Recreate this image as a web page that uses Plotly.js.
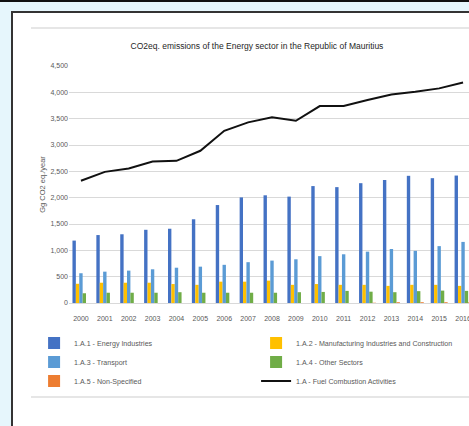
<!DOCTYPE html>
<html>
<head>
<meta charset="utf-8">
<script src="https://cdn.plot.ly/plotly-3.0.1.min.js"></script>
<style>
  html, body { margin: 0; padding: 0; width: 469px; height: 426px; overflow: hidden; background: #e6f6fc; position: relative; }
  #topbar { position: absolute; left: 0; top: 0; width: 469px; height: 2px; background: #111; }
  #box { position: absolute; left: 11px; top: 11px; width: 470px; height: 430px; background: #fff; border-left: 2px solid #333; border-top: 2px solid #333; }
  .hl { position: absolute; left: 31px; width: 440px; height: 2px; background: #e6e6e6; }
  #chart { position: absolute; left: 0; top: 0; width: 520px; height: 426px; }
</style>
</head>
<body>
<div id="topbar"></div>
<div id="box"></div>
<div class="hl" style="top:27px"></div>
<div class="hl" style="top:396px"></div>
<div id="chart"></div>
<script>
const years = ["2000","2001","2002","2003","2004","2005","2006","2007","2008","2009","2010","2011","2012","2013","2014","2015","2016"];
const energyIndustries = [1185, 1290, 1305, 1390, 1410, 1590, 1860, 2005, 2045, 2020, 2220, 2200, 2275, 2335, 2415, 2370, 2420];
const manufacturing = [365, 385, 385, 385, 360, 345, 405, 405, 425, 345, 360, 345, 345, 325, 345, 345, 325];
const transport = [565, 595, 615, 640, 670, 690, 725, 775, 805, 830, 890, 925, 975, 1025, 990, 1080, 1160];
const otherSectors = [185, 195, 195, 195, 205, 195, 195, 195, 195, 205, 210, 230, 215, 205, 225, 235, 230];
const nonSpecified = [0, 0, 0, 0, 0, 0, 0, 0, 0, 0, 0, 0, 5, 15, 15, 15, 15];
const fuelCombustion = [2320, 2490, 2555, 2685, 2700, 2890, 3270, 3430, 3525, 3460, 3740, 3740, 3855, 3960, 4010, 4075, 4185];

const FONT = "Liberation Sans Narrow, Liberation Sans, Arial, sans-serif";

const traces = [
  {type: "bar", name: "1.A.1 - Energy Industries", x: years, y: energyIndustries, marker: {color: "#4472C4"}},
  {type: "bar", name: "1.A.2 - Manufacturing Industries and Construction", x: years, y: manufacturing, marker: {color: "#FFC000"}},
  {type: "bar", name: "1.A.3 - Transport", x: years, y: transport, marker: {color: "#5B9BD5"}},
  {type: "bar", name: "1.A.4 - Other Sectors", x: years, y: otherSectors, marker: {color: "#70AD47"}},
  {type: "bar", name: "1.A.5 - Non-Specified", x: years, y: nonSpecified, marker: {color: "#ED7D31"}},
  {type: "scatter", mode: "lines", name: "1.A - Fuel Combustion Activities", x: years, y: fuelCombustion, line: {color: "#111", width: 2}}
];

const layout = {
  width: 520, height: 426,
  margin: {l: 69, r: 45, t: 66, b: 123},
  paper_bgcolor: "rgba(0,0,0,0)",
  plot_bgcolor: "rgba(0,0,0,0)",
  font: {family: FONT, color: "#595959", size: 7},
  title: {text: "CO2eq. emissions of the Energy sector in the Republic of Mauritius", font: {family: FONT, size: 8.5, color: "#262626"}, x: 257/520, xref: "container", xanchor: "center", y: 1 - 46/426, yref: "container", yanchor: "middle"},
  barmode: "group",
  bargap: 0.29,
  bargroupgap: 0,
  showlegend: true,
  legend: {orientation: "h", x: -0.086, xanchor: "left", y: -0.108, yanchor: "top", font: {family: FONT, size: 7.1, color: "#595959"}, entrywidth: 177, entrywidthmode: "pixels", traceorder: "normal", itemwidth: 30},
  xaxis: {type: "category", showgrid: false, showline: true, linecolor: "#d9d9d9", linewidth: 1, ticks: "", ticklabelstandoff: 9, tickfont: {size: 7, color: "#595959"}, automargin: false, fixedrange: true},
  yaxis: {range: [0, 4500], dtick: 500, tickformat: ",", showgrid: true, gridcolor: "#d9d9d9", gridwidth: 1, zeroline: false, ticks: "", tickfont: {size: 7, color: "#595959"}, automargin: false,
          title: {text: "Gg CO2 eq./year", font: {size: 7.5, color: "#595959"}, standoff: 3}}
};

Plotly.newPlot("chart", traces, layout, {displayModeBar: false, staticPlot: true});
</script>
</body>
</html>
